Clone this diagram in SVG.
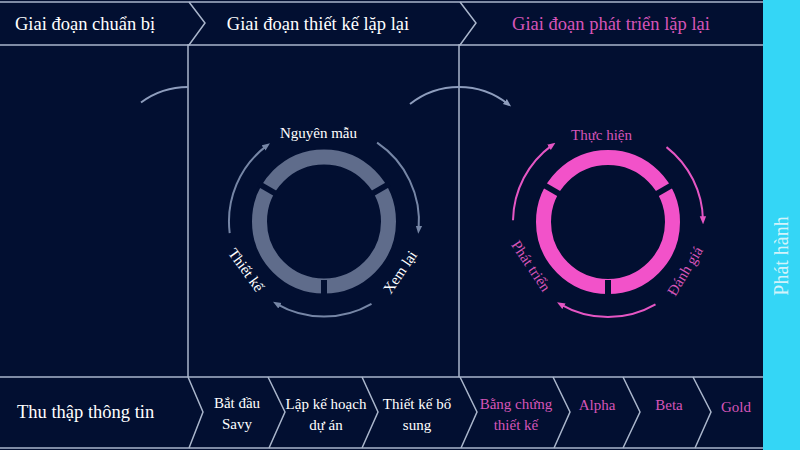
<svg xmlns="http://www.w3.org/2000/svg" width="800" height="450" viewBox="0 0 800 450">
<defs>
<style>
.t{font-family:"Liberation Serif","DejaVu Serif",serif;}
.w{fill:#ffffff;}
.p{fill:#d655b8;}
.ln{fill:none;stroke:#aab6cc;stroke-width:1.5;}
.ga{fill:none;stroke:#7686a6;stroke-width:2;}
.pa{fill:none;stroke:#e656c4;stroke-width:2;}
.ca{fill:none;stroke:#8e9dbd;stroke-width:2;}
.gap{fill:#020f31;}
</style>
<marker id="mg" viewBox="0 0 10 10" refX="5" refY="5" markerWidth="8" markerHeight="8" markerUnits="userSpaceOnUse" orient="auto"><path d="M0,1 L10,5 L0,9 Z" fill="#7686a6"/></marker>
<marker id="mp" viewBox="0 0 10 10" refX="5" refY="5" markerWidth="8" markerHeight="8" markerUnits="userSpaceOnUse" orient="auto"><path d="M0,1 L10,5 L0,9 Z" fill="#e656c4"/></marker>
<marker id="mc" viewBox="0 0 10 10" refX="5" refY="5" markerWidth="8" markerHeight="8" markerUnits="userSpaceOnUse" orient="auto"><path d="M0,1 L10,5 L0,9 Z" fill="#8e9dbd"/></marker>
</defs>
<rect width="800" height="450" fill="#020f31"/>
<rect id="release-panel" x="763" y="0" width="37" height="450" fill="#34d6f6"/>
<text class="t" x="0" y="0" transform="translate(788,256) rotate(-90)" text-anchor="middle" font-size="20" fill="#d2f3fb">Phát hành</text>

<g id="frame">
<line class="ln" x1="0" y1="2" x2="763" y2="2"/>
<line class="ln" x1="0" y1="45" x2="763" y2="45"/>
<line class="ln" x1="0" y1="377" x2="763" y2="377"/>
<line class="ln" x1="0" y1="448" x2="763" y2="448"/>
<polyline class="ln" points="189,2 205,23 189,45 188,45 188,377"/>
<polyline class="ln" points="460,2 476,23 460,45 459,45 459,377"/>
<polyline class="ln" points="188,377 203,412 189,448"/>
<polyline class="ln" points="268,377 285,412 269,448"/>
<polyline class="ln" points="362,377 378,412 362,448"/>
<polyline class="ln" points="460,377 477,412 461,448"/>
<polyline class="ln" points="553,377 570,412 554,448"/>
<polyline class="ln" points="623,377 640,412 623,448"/>
<polyline class="ln" points="693,377 711,412 695,448"/>
</g>

<g id="headers">
<text class="t w" x="15" y="30" font-size="18.5">Giai đoạn chuẩn bị</text>
<text class="t w" x="318" y="30" font-size="18.5" text-anchor="middle">Giai đoạn thiết kế lặp lại</text>
<text class="t p" x="611" y="30" font-size="18.5" text-anchor="middle">Giai đoạn phát triển lặp lại</text>
</g>

<g id="steps">
<text class="t w" x="17" y="418" font-size="18.5">Thu thập thông tin</text>
<text class="t w" text-anchor="middle" font-size="15"><tspan x="237" y="408">Bắt đầu</tspan><tspan x="237" y="429">Savy</tspan></text>
<text class="t w" text-anchor="middle" font-size="15"><tspan x="326" y="409">Lập kế hoạch</tspan><tspan x="326" y="430">dự án</tspan></text>
<text class="t w" text-anchor="middle" font-size="15"><tspan x="417" y="409">Thiết kế bổ</tspan><tspan x="417" y="430">sung</tspan></text>
<text class="t p" text-anchor="middle" font-size="15"><tspan x="516" y="409">Bằng chứng</tspan><tspan x="516" y="430">thiết kế</tspan></text>
<text class="t p" x="597" y="410" font-size="15" text-anchor="middle">Alpha</text>
<text class="t p" x="669" y="410" font-size="15" text-anchor="middle">Beta</text>
<text class="t p" x="736" y="412" font-size="15" text-anchor="middle">Gold</text>
</g>

<g id="design-cycle">
<circle cx="324" cy="221.5" r="64.5" fill="none" stroke="#5f6c8b" stroke-width="15"/>
<rect class="gap" x="321" y="280" width="6" height="20"/>
<rect class="gap" x="-3" y="55" width="6" height="20" transform="translate(324,221.5) rotate(120)"/>
<rect class="gap" x="-3" y="55" width="6" height="20" transform="translate(324,221.5) rotate(240)"/>
<text class="t w" x="318.5" y="138" font-size="15" text-anchor="middle">Nguyên mẫu</text>
<text class="t w" x="0" y="5" font-size="15" text-anchor="middle" transform="translate(400,272) rotate(-56)">Xem lại</text>
<text class="t w" x="0" y="5" font-size="15" text-anchor="middle" transform="translate(246,270) rotate(54)">Thiết kế</text>
</g>

<g id="dev-cycle">
<circle cx="608" cy="222" r="64.5" fill="none" stroke="#f252c9" stroke-width="15"/>
<rect class="gap" x="605" y="280" width="6" height="20"/>
<rect class="gap" x="-3" y="55" width="6" height="20" transform="translate(608,222) rotate(120)"/>
<rect class="gap" x="-3" y="55" width="6" height="20" transform="translate(608,222) rotate(240)"/>
<text class="t p" x="601.5" y="140" font-size="15" text-anchor="middle">Thực hiện</text>
<text class="t p" x="0" y="5" font-size="15" text-anchor="middle" transform="translate(685,271) rotate(-59)">Đánh giá</text>
<text class="t p" x="0" y="5" font-size="15" text-anchor="middle" transform="translate(531,266) rotate(56)">Phát triển</text>
</g>

<g id="connectors">
<path class="ga" d="M229.7,233.1 A95,95 0 0 1 266.8,145.6" marker-end="url(#mg)"/>
<path class="ga" d="M377.1,142.7 A95,95 0 0 1 418.6,229.8" marker-end="url(#mg)"/>
<path class="ga" d="M371.5,303.8 A95,95 0 0 1 276.5,303.8" marker-end="url(#mg)"/>
<path class="pa" d="M513,220.3 A95,95 0 0 1 552.2,145.1" marker-end="url(#mp)"/>
<path class="pa" d="M666.5,147.1 A95,95 0 0 1 703,220.3" marker-end="url(#mp)"/>
<path class="pa" d="M655.5,304.3 A95,95 0 0 1 560.5,304.3" marker-end="url(#mp)"/>
<path class="ca" d="M141,102.5 A79,79 0 0 1 188,87"/>
<path class="ca" d="M410,104 A79,79 0 0 1 508,104" marker-end="url(#mc)"/>
</g>
</svg>
